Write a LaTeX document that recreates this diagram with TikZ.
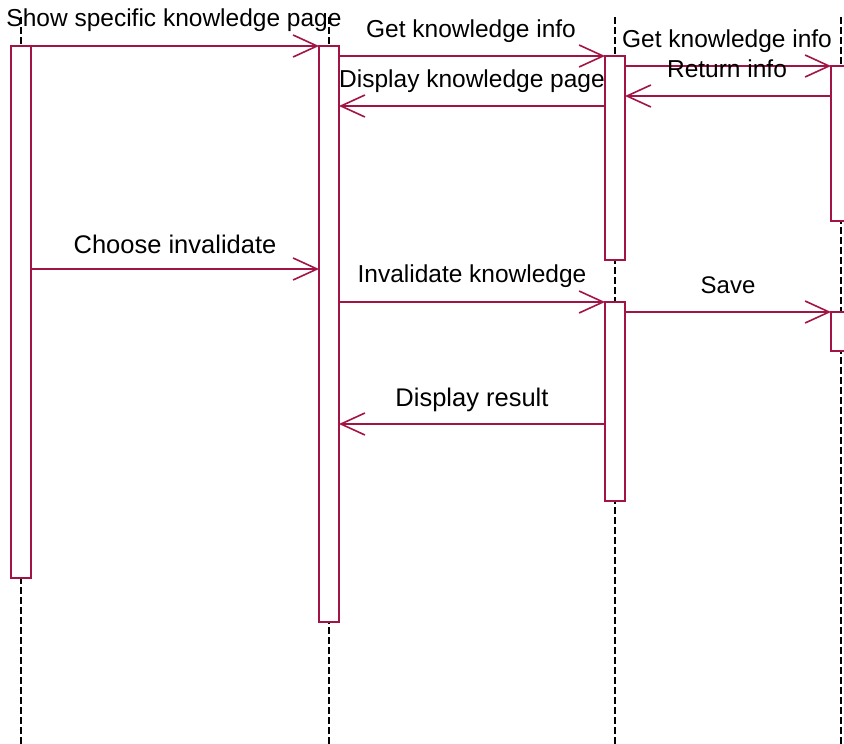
\documentclass[tikz,border=0pt]{standalone}
\usepackage{fontspec}
\setmainfont{Liberation Sans}
\usetikzlibrary{arrows.meta}
\definecolor{umlred}{RGB}{163,20,70}
\tikzset{
  lifeline/.style={draw=black, line width=1.4pt, dash pattern=on 7pt off 3pt},
  act/.style={draw=umlred, fill=white, line width=1.6pt, inner sep=0pt, outer sep=0pt, minimum width=20pt, anchor=north west},
  msg/.style={draw=umlred, line width=1.6pt, -{Straight Barb[length=24pt, width=22pt, line width=1.6pt]}},
  lbl/.style={anchor=base, inner sep=0pt, font=\fontsize{24.5}{28}\selectfont}
}
\begin{document}
\begin{tikzpicture}[x=1pt, y=-1pt]
\useasboundingbox (0,0) rectangle (844,744);
% lifelines
\coordinate (L1t) at (21,17);  \coordinate (L1b) at (21,744);
\coordinate (L2t) at (329,17); \coordinate (L2b) at (329,744);
\coordinate (L3t) at (615,17); \coordinate (L3b) at (615,744);
\coordinate (L4t) at (841,17); \coordinate (L4b) at (841,744);
\draw[lifeline] (L1t) -- (L1b);
\draw[lifeline] (L2t) -- (L2b);
\draw[lifeline] (L3t) -- (L3b);
\draw[lifeline] (L4t) -- (L4b);
% activation boxes
\node[act, minimum height=532pt] (A) at (11,46) {};
\node[act, minimum height=576pt] (B) at (319,46) {};
\node[act, minimum height=204pt] (C1) at (605,56) {};
\node[act, minimum height=155pt] (D1) at (831,66) {};
\node[act, minimum height=199pt] (C2) at (605,302) {};
\node[act, minimum height=39pt] (D2) at (831,312) {};
% messages
\draw[msg] (A.north east) -- (B.north west);
\draw[msg] (B.east |- C1.north) -- (C1.north west);
\draw[msg] (C1.east |- D1.north) -- (D1.north west);
\draw[msg] (D1.west |- 0,96) -- (C1.east |- 0,96);
\draw[msg] (C1.west |- 0,106) -- (B.east |- 0,106);
\draw[msg] (A.east |- 0,269) -- (B.west |- 0,269);
\draw[msg] (B.east |- C2.north) -- (C2.north west);
\draw[msg] (C2.east |- D2.north) -- (D2.north west);
\draw[msg] (C2.west |- 0,424) -- (B.east |- 0,424);
% labels
\node[lbl] (t1) at (174,26) {Show specific knowledge page};
\node[lbl] (t2) at (471,37) {Get knowledge info};
\node[lbl] (t3) at (472,87) {Display knowledge page};
\node[lbl] (t4) at (727,47) {Get knowledge info};
\node[lbl] (t5) at (727,77) {Return info};
\node[lbl, font=\fontsize{25.5}{29}\selectfont] (t6) at (175,253) {Choose invalidate};
\node[lbl] (t7) at (472,282) {Invalidate knowledge};
\node[lbl, font=\fontsize{24}{28}\selectfont] (t8) at (728,293) {Save};
\node[lbl, font=\fontsize{25.5}{29}\selectfont] (t9) at (472,406) {Display result};
\end{tikzpicture}
\end{document}
